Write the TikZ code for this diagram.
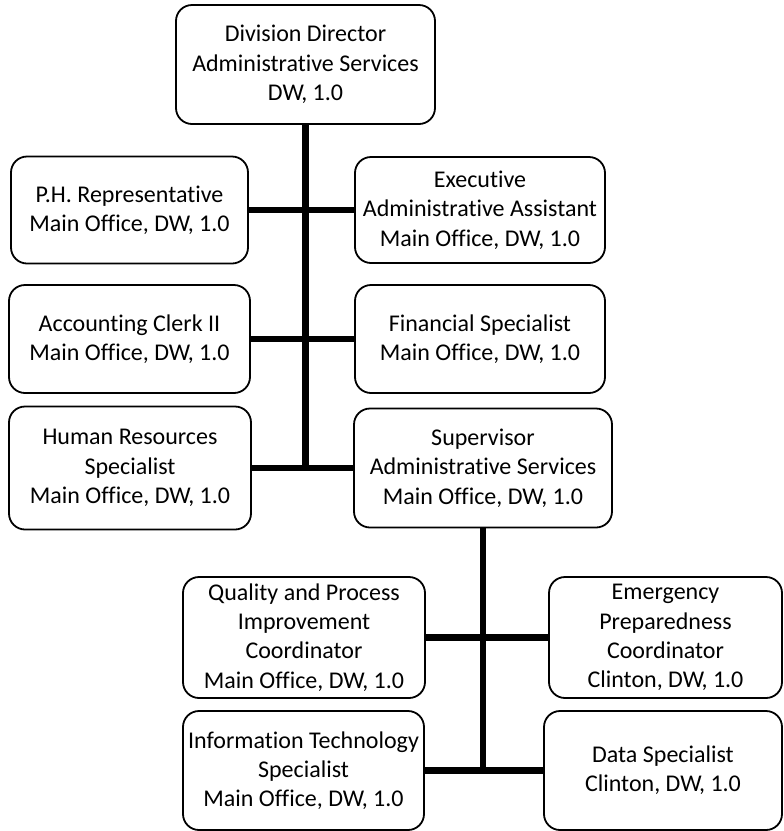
\documentclass[tikz,border=0pt]{standalone}
\usepackage{fontspec}
\setmainfont{Carlito}[Ligatures={NoCommon}]

\begin{document}
\begin{tikzpicture}[x=1pt,y=-1pt,every node/.style={align=center,font=\fontsize{24}{29.3}\selectfont},
post/.style 2 args={draw,fill=white,line width=1.8pt,rounded corners=16pt,inner sep=1pt,minimum width=#1pt,minimum height=#2pt},
link/.style={line width=6.5pt}
]
\useasboundingbox[fill=white] (0,0) rectangle (784,831);
\node[post={259}{119}] (dir) at (305.5,64.5) {Division Director\\Administrative Services\\DW, 1.0};
\node[post={237}{107}] (ph) at (129.5,210) {P.H. Representative\\Main Office, DW, 1.0};
\node[post={250}{106}] (exec) at (480,210) {Executive\\Administrative Assistant\\Main Office, DW, 1.0};
\node[post={241}{108}] (acct) at (129.5,339) {Accounting Clerk II\\Main Office, DW, 1.0};
\node[post={250}{108}] (fin) at (480,339) {Financial Specialist\\Main Office, DW, 1.0};
\node[post={242}{123}] (hr) at (130,468) {Human Resources\\Specialist\\Main Office, DW, 1.0};
\node[post={258}{119}] (sup) at (483,468) {Supervisor\\Administrative Services\\Main Office, DW, 1.0};
\node[post={242}{121}] (qual) at (304,637.5) {Quality and Process\\Improvement\\Coordinator\\Main Office, DW, 1.0};
\node[post={233}{121}] (emerg) at (665.5,637.5) {Emergency\\Preparedness\\Coordinator\\Clinton, DW, 1.0};
\node[post={241}{119}] (it) at (303.5,770.5) {Information Technology\\Specialist\\Main Office, DW, 1.0};
\node[post={238}{119}] (data) at (663,770.5) {Data Specialist\\Clinton, DW, 1.0};
% <- end posts
\draw[link,shorten >=-3.2pt] (dir.south) -- (dir.south |- hr.east);
\draw[link] (ph) -- (exec);
\draw[link] (acct) -- (fin);
\draw[link] (hr) -- (sup);
\draw[link,shorten >=-3.2pt] (sup.south) -- (sup.south |- it.east);
\draw[link] (qual) -- (emerg);
\draw[link] (it) -- (data);
; %<- end links
\end{tikzpicture}
\end{document}
